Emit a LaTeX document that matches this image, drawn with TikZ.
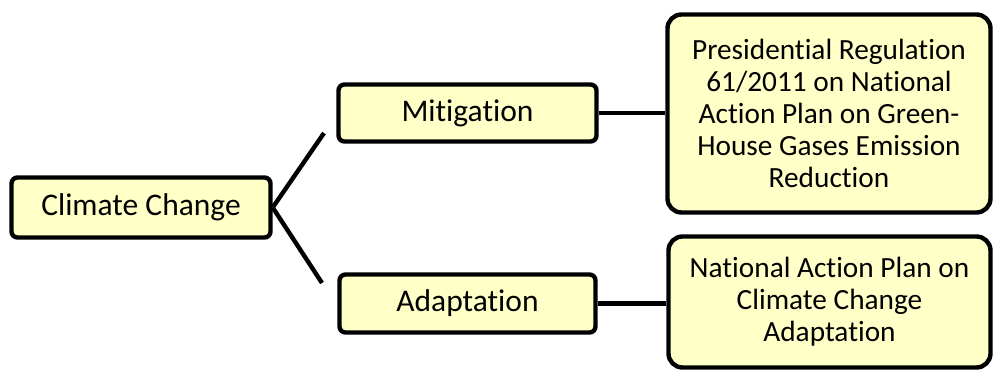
\documentclass[tikz,border=0pt]{standalone}
\usepackage{fontspec}
\setmainfont{Carlito}[Ligatures=NoCommon]
\definecolor{boxfill}{RGB}{255,255,200}
\begin{document}
\begin{tikzpicture}[x=1pt,y=-1pt,
  box/.style={draw=black, line width=4.4pt, fill=boxfill, rounded corners=#1,
    inner sep=0pt, align=center},
  box/.default=6pt,
  small/.style={box, font=\fontsize{31.5}{34}\selectfont},
  big/.style={box=14pt, font=\fontsize{29.3}{32}\selectfont},
  link/.style={draw=black, line width=4.4pt}]
\useasboundingbox (0,0) rectangle (994,371);
% nodes
\node[small, minimum width=259, minimum height=60] (cc) at (141,207.5) {Climate Change};
\node[small, minimum width=258, minimum height=57] (mit) at (467.5,113) {Mitigation};
\node[small, minimum width=256, minimum height=58] (ada) at (467.5,303.5) {Adaptation};
\node[big, minimum width=323, minimum height=198] (pres) at (829,113.5)
  {Presidential Regulation\\61/2011 on National\\Action Plan on Green-\\House Gases Emission\\Reduction};
\node[big, minimum width=322, minimum height=131] (nap) at (829.5,302)
  {National Action Plan on\\Climate Change\\Adaptation};
% free ends of the branches
\coordinate (up) at (324,133);
\coordinate (down) at (322,283);
% connectors
\draw[link] (cc.east) -- (up);
\draw[link] (cc.east) -- (down);
\draw[link] (mit.east) -- (pres.west |- mit.east);
\draw[link] (ada.east) -- (nap.west |- ada.east);
\end{tikzpicture}
\end{document}
